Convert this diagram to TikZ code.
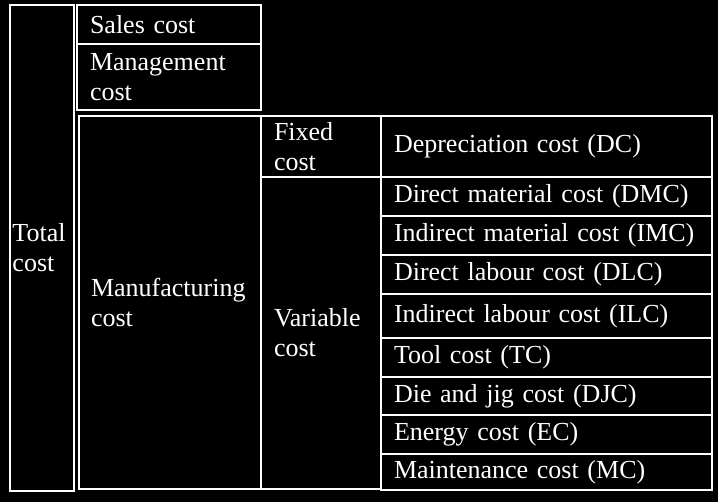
\documentclass[tikz,border=0pt]{standalone}
\usepackage{fontspec}
\setmainfont{Liberation Serif}
\usetikzlibrary{positioning}

\begin{document}
\begin{tikzpicture}[
        x=1pt, y=-1pt,
        cell/.style={rectangle, draw=white, line width=2.4pt, fill=black, text=white, outer sep=0pt, inner ysep=0pt, inner xsep=13pt, align=left, anchor=north west, font=\fontsize{26}{30}\selectfont},
        row/.style={cell, minimum width=331pt, text width=305pt, anchor=north}
    ]
        \fill[black] (0,0) rectangle (718,502);

        \node[cell, minimum width=64pt, minimum height=486pt, text width=59pt, inner xsep=2.5pt] (total) at (10,5) {Total\\cost};
        \node[cell, minimum width=184pt, minimum height=39pt, text width=158pt] (sales) at (77,5) {Sales cost};
        \node[cell, minimum width=184pt, minimum height=66pt, text width=158pt] (management) at (77,44) {Management\\cost};
        \node[cell, minimum width=182pt, minimum height=373pt, text width=158pt, inner xsep=12pt] (manufacturing) at (79,116) {Manufacturing\\cost};
        \node[cell, minimum width=120pt, minimum height=61pt, text width=94pt] (fixed) at (261,116) {Fixed\\cost};
        \node[cell, minimum width=120pt, minimum height=312pt, text width=94pt] (variable) at (261,177) {Variable\\cost};

        \node[cell, minimum width=331pt, minimum height=61pt, text width=305pt] (dc) at (381,116) {Depreciation cost (DC)};
        \node[row, minimum height=39pt, below=0pt of dc] (dmc) {Direct material cost (DMC)};
        \node[row, minimum height=39pt, below=0pt of dmc] (imc) {Indirect material cost (IMC)};
        \node[row, minimum height=39pt, below=0pt of imc] (dlc) {Direct labour cost (DLC)};
        \node[row, minimum height=44pt, below=0pt of dlc] (ilc) {Indirect labour cost (ILC)};
        \node[row, minimum height=39pt, below=0pt of ilc] (tc) {Tool cost (TC)};
        \node[row, minimum height=38pt, below=0pt of tc] (djc) {Die and jig cost (DJC)};
        \node[row, minimum height=39pt, below=0pt of djc] (ec) {Energy cost (EC)};
        \node[row, minimum height=36pt, below=0pt of ec] (mc) {Maintenance cost (MC)};
    \end{tikzpicture}
\end{document}
